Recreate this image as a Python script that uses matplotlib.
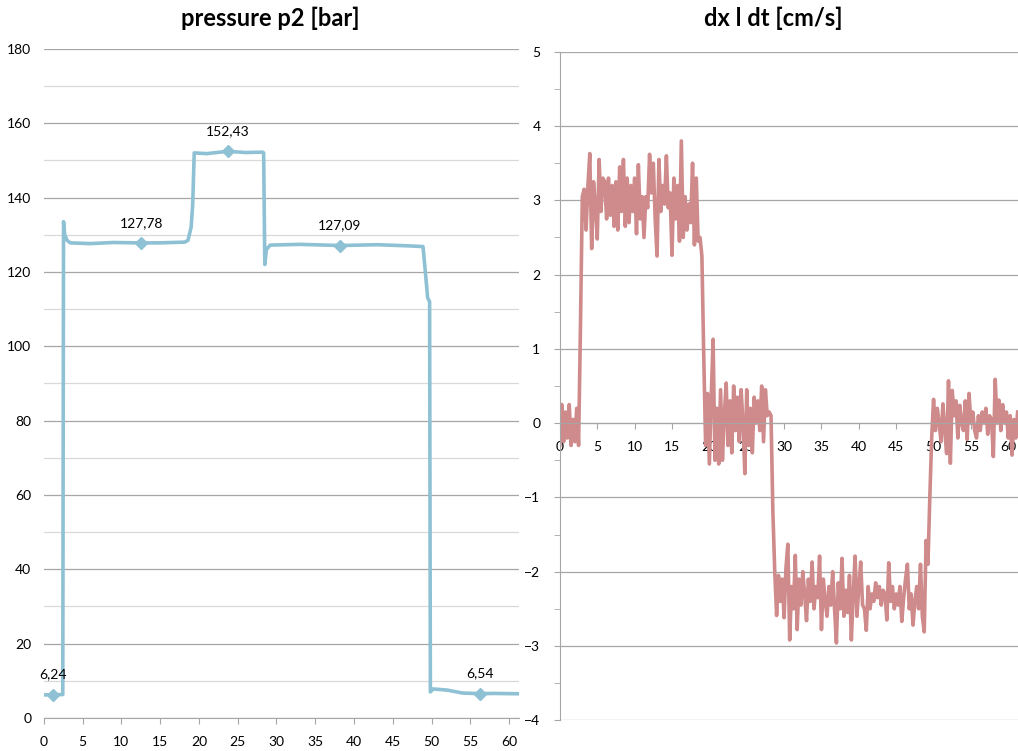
import numpy as np
import matplotlib
matplotlib.use("Agg")
import matplotlib.pyplot as plt
from matplotlib.ticker import MultipleLocator

plt.rcParams['font.family'] = ['Lato', 'DejaVu Sans']

# pressure p2 [bar] - breakpoints
p_t = [0, 1.15, 2.45, 2.55, 2.7, 3.0, 3.4, 6, 9, 12.6, 15, 18.2, 18.6, 19.0,
       19.2, 19.4, 21, 23.7, 26, 28.2, 28.35, 28.5, 28.7, 29.2, 33, 38.2, 43,
       47, 48.9, 49.2, 49.5, 49.75, 49.85, 50.2, 52, 54, 56.2, 58, 61.3]
p_val = [6.2, 6.24, 6.3, 133.5, 130, 128.5, 127.8, 127.6, 127.9, 127.78, 127.8,
         128.0, 128.5, 132, 138, 152, 151.8, 152.43, 152.1, 152.2, 152, 122, 126,
         127.2, 127.4, 127.09, 127.3, 127.0, 126.8, 120, 113, 112, 7, 7.8, 7.5,
         6.7, 6.54, 6.6, 6.5]

# labelled points on the pressure curve
lab_t = [1.15, 12.6, 23.7, 38.2, 56.2]
lab_p = [6.24, 127.78, 152.43, 127.09, 6.54]

# dx/dt [cm/s], one value every 0.25 s
dx_t = np.arange(246) * 0.25
dx_val = [
    -0.3, 0.25, -0.25, 0.15, -0.2, 0.25, -0.3, 0.05, -0.25, 0.2, -0.3, 1.3,
    3.05, 3.15, 2.6, 3.2,
    3.63, 2.35, 3.25, 2.9,
    2.48, 3.55, 2.85, 3.3,
    3.25, 2.75, 3.3, 2.8,
    3.2, 2.65, 3.25, 2.6,
    3.45, 2.85, 3.55, 2.65,
    3.3, 2.7, 3.2, 2.85,
    3.3, 2.55, 3.48, 2.75,
    3.05, 2.5, 3.05, 2.9,
    3.62, 3.1, 3.5, 2.75,
    2.25, 3.55, 2.85, 3.2,
    2.95, 3.6, 2.9, 3.1,
    2.26, 3.3, 2.75, 3.2,
    2.45, 3.8, 2.5, 3.05,
    2.6, 2.95, 2.7, 3.5,
    2.4, 3.3, 2.45, 2.5,
    2.25, 0.9, -0.3, 0.4,
    -0.55, 0.35, 1.13, -0.5,
    0.2, -0.55, 0.45, -0.5,
    0.1, 0.54, -0.3, 0.3,
    -0.4, 0.5, -0.1, 0.35,
    -0.25, 0.45, 0.0, -0.68,
    0.45, -0.3, 0.2, -0.4,
    0.35, 0.0, 0.3, -0.1,
    0.5, -0.25, 0.45, 0.1,
    0.15, 0.1, -1.2, -2.0,
    -2.59, -2.05, -2.4, -2.1,
    -2.62, -1.95, -1.63, -2.92,
    -2.2, -2.5, -1.78, -2.78,
    -2.1, -2.45, -2.0, -2.3,
    -2.66, -2.1, -2.4, -1.87,
    -2.5, -2.2, -2.35, -1.79,
    -2.78, -2.1, -2.4, -2.6,
    -2.2, -2.45, -2.0, -2.5,
    -2.96, -2.15, -2.5, -1.82,
    -2.6, -2.25, -2.55, -2.05,
    -2.92, -2.3, -1.79, -2.6,
    -2.2, -1.87, -2.45, -2.5,
    -2.79, -2.2, -2.5, -2.3,
    -2.4, -2.15, -2.35, -2.2,
    -2.45, -2.25, -2.3, -2.65,
    -1.88, -2.4, -2.2, -2.5,
    -2.3, -2.45, -2.2, -2.67,
    -2.35, -2.1, -1.9, -2.5,
    -2.3, -2.72, -2.4, -2.2,
    -2.5, -1.9, -2.6, -2.81,
    -1.58, -1.9, -1.0, -0.2,
    0.32, -0.1, 0.2, 0.0,
    -0.25, 0.26, -0.1, -0.41,
    0.57, -0.54, 0.44, 0.1,
    0.3, -0.2, 0.24, 0.0,
    -0.1, 0.3, -0.22, 0.40,
    0.0, 0.15, -0.1, -0.2,
    0.1, -0.1, 0.15, 0.0,
    0.2, -0.15, 0.1, 0.05,
    -0.45, 0.59, 0.0, 0.31,
    -0.1, 0.25, 0.0, 0.15,
    -0.2, 0.1, -0.43, 0.05,
    -0.2, 0.15,
]

blue = '#8fc1d5'
red = '#cf8b8b'
grid_dark = '#a6a6a6'
grid_light = '#d9d9d9'

fig = plt.figure(figsize=(10.18, 7.51), dpi=100)

# ---- left chart: pressure
ax1 = fig.add_axes([0.043, 0.044, 0.467, 0.891])
ax1.set_axisbelow(True)
ax1.plot(p_t, p_val, color=blue, lw=2.6)
ax1.plot(lab_t, lab_p, ls='none', marker='D', ms=6.5, color=blue)
for x, y in zip(lab_t, lab_p):
    ax1.annotate(f"{y:.2f}".replace('.', ','), (x, y), xytext=(0, 14.5),
                 textcoords='offset points', ha='center', va='center', fontsize=10)
ax1.set_xlim(0, 61.3)
ax1.set_ylim(0, 180)
ax1.xaxis.set_major_locator(MultipleLocator(5))
ax1.yaxis.set_major_locator(MultipleLocator(20))
ax1.yaxis.set_minor_locator(MultipleLocator(10))
ax1.grid(axis='y', which='major', color=grid_dark, lw=0.9)
ax1.grid(axis='y', which='minor', color=grid_light, lw=0.9)
for s in ['top', 'right', 'left']:
    ax1.spines[s].set_visible(False)
ax1.spines['bottom'].set_color(grid_dark)
ax1.tick_params(axis='y', which='both', length=0, pad=9, labelsize=10)
ax1.tick_params(axis='x', length=4, color=grid_dark, pad=9, labelsize=10)
fig.text(0.266, 0.975, 'pressure p2 [bar]', ha='center', va='center',
         fontsize=17, fontweight='bold')

# ---- right chart: dx/dt
ax2 = fig.add_axes([0.550, 0.041, 0.450, 0.890])
ax2.set_axisbelow(True)
ax2.plot(dx_t, dx_val, color=red, lw=2.6)
ax2.set_xlim(0, 61.3)
ax2.set_ylim(-4, 5)
ax2.xaxis.set_major_locator(MultipleLocator(5))
ax2.yaxis.set_major_locator(MultipleLocator(1))
ax2.yaxis.set_minor_locator(MultipleLocator(0.5))
ax2.grid(axis='y', which='major', color=grid_dark, lw=0.9)
for s in ['top', 'right']:
    ax2.spines[s].set_visible(False)
ax2.spines['bottom'].set_position(('data', 0))
ax2.spines['bottom'].set_color(grid_dark)
ax2.spines['left'].set_color(grid_dark)
ax2.tick_params(axis='x', length=4, color=grid_dark, pad=9, labelsize=10)
ax2.tick_params(axis='y', which='both', length=4, color=grid_dark, pad=10, labelsize=10)
fig.text(0.760, 0.975, 'dx l dt [cm/s]', ha='center', va='center',
         fontsize=17, fontweight='bold')

fig.savefig('out.png', dpi=100)
